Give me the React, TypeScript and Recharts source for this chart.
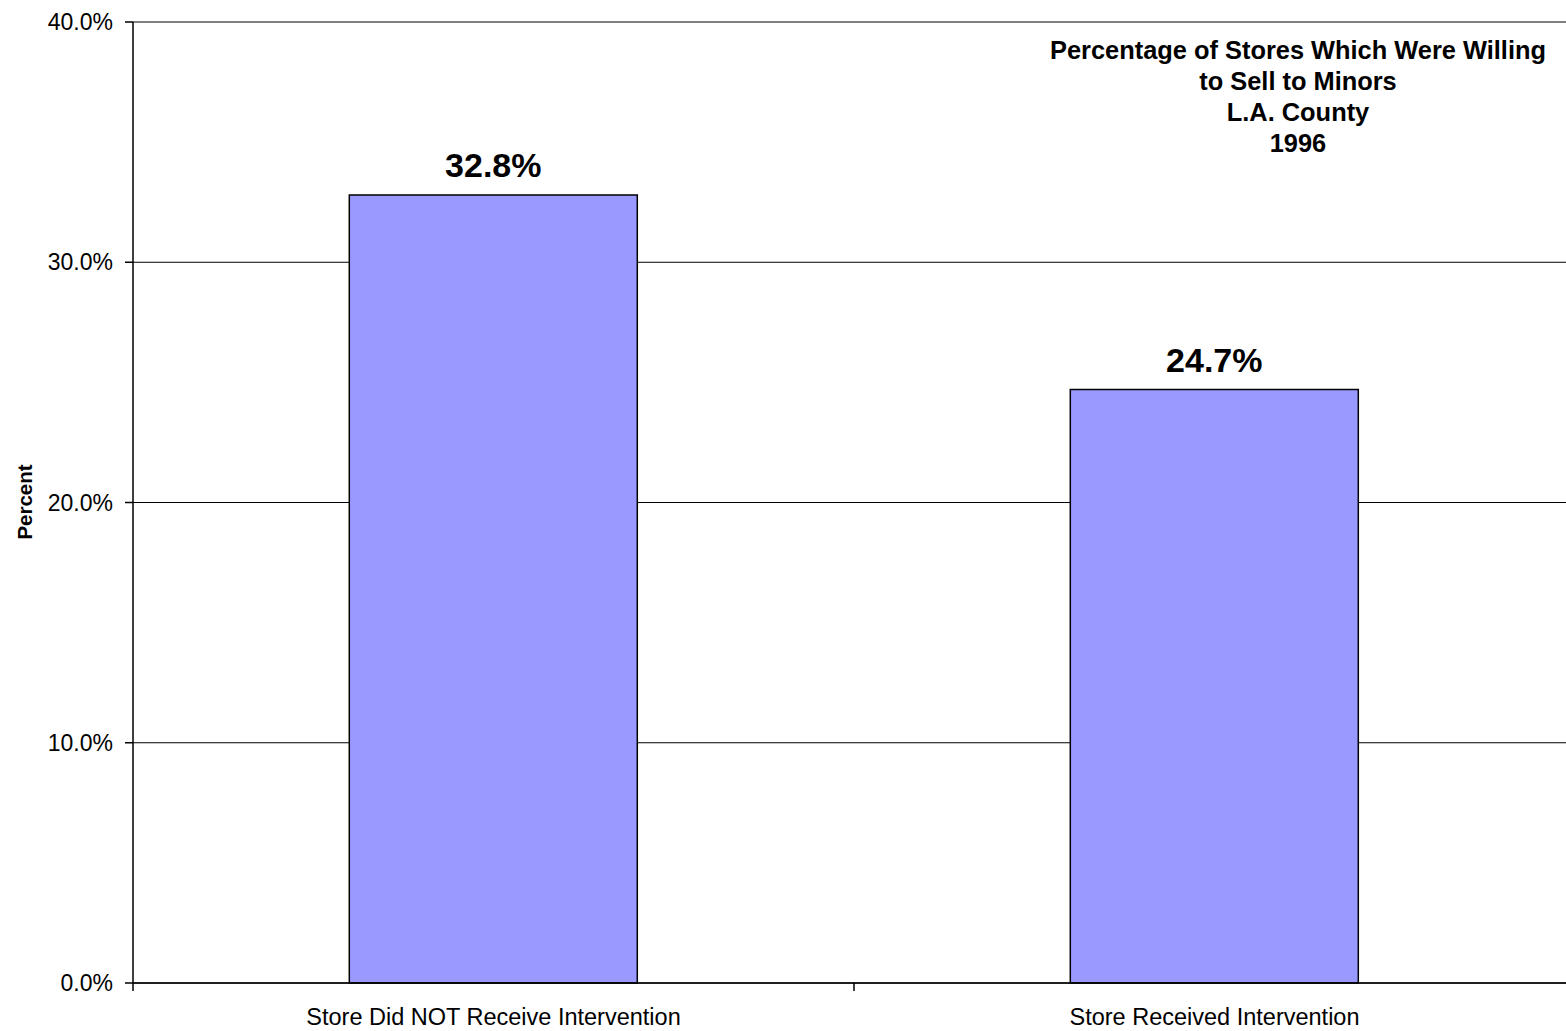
import { BarChart, Bar, XAxis, YAxis, CartesianGrid, LabelList } from 'recharts';

const categories = ['Store Did NOT Receive Intervention', 'Store Received Intervention'];
const percents = [32.8, 24.7];
const yTicks = [0, 10, 20, 30, 40];
const titleLines = ['Percentage of Stores Which Were Willing', 'to Sell to Minors', 'L.A. County', '1996'];

const data = categories.map((name, i) => ({ name, value: percents[i] }));

const FONT = '"Liberation Sans", Arial, Helvetica, sans-serif';

// category label at the band centre, tick marks at the band edges (Excel style)
function CategoryTick(props: any) {
  const { x, y, payload } = props;
  const half = payload?.offset || 0;
  const isLast = payload?.index === categories.length - 1;
  return (
    <g>
      <line x1={x - half} y1={y} x2={x - half} y2={y + 8} stroke="#000" strokeWidth={1.5} />
      {isLast && <line x1={x + half} y1={y} x2={x + half} y2={y + 8} stroke="#000" strokeWidth={1.5} />}
      <text
        x={x}
        y={y + 34}
        textAnchor="middle"
        dominantBaseline="central"
        fill="#000"
        fontSize={23.5}
        fontFamily={FONT}
      >
        {payload.value}
      </text>
    </g>
  );
}

export default function App() {
  return (
    <div
      style={{
        position: 'fixed',
        left: 0,
        top: 0,
        width: 1566,
        height: 1031,
        overflow: 'hidden',
        background: '#fff',
        fontFamily: FONT,
      }}
    >
      <BarChart
        width={1600}
        height={1031}
        data={data}
        margin={{ top: 22, right: 25, bottom: 0, left: 0 }}
        barCategoryGap="30%"
      >
        <CartesianGrid vertical={false} stroke="#000" strokeWidth={1} />
        <XAxis
          dataKey="name"
          height={48}
          axisLine={{ stroke: '#000', strokeWidth: 1.5 }}
          tickLine={false}
          tickSize={0}
          tickMargin={0}
          interval={0}
          tick={<CategoryTick />}
        />
        <YAxis
          width={133}
          domain={[0, 40]}
          ticks={yTicks}
          interval={0}
          tickFormatter={(v: number) => `${v.toFixed(1)}%`}
          axisLine={{ stroke: '#000', strokeWidth: 1.5 }}
          tickLine={{ stroke: '#000', strokeWidth: 1.5 }}
          tickSize={8}
          tickMargin={12}
          tick={{ fill: '#000', fontSize: 23, fontFamily: FONT }}
        />
        <Bar dataKey="value" fill="#9999FF" stroke="#000" strokeWidth={1.5} isAnimationActive={false}>
          <LabelList
            dataKey="value"
            position="top"
            offset={18}
            formatter={(v: number) => `${v.toFixed(1)}%`}
            style={{ fill: '#000', fontSize: 34, fontWeight: 'bold', fontFamily: FONT }}
          />
        </Bar>
      </BarChart>
      <div
        style={{
          position: 'absolute',
          left: 1030,
          top: 35,
          width: 536,
          textAlign: 'center',
          fontSize: 25.4,
          fontWeight: 'bold',
          lineHeight: '31px',
          color: '#000',
        }}
      >
        {titleLines.map((l) => (
          <div key={l}>{l}</div>
        ))}
      </div>
      <div
        style={{
          position: 'absolute',
          left: 25,
          top: 502,
          transform: 'translate(-50%, -50%) rotate(-90deg)',
          fontSize: 20.5,
          fontWeight: 'bold',
          color: '#000',
          whiteSpace: 'nowrap',
        }}
      >
        Percent
      </div>
    </div>
  );
}
